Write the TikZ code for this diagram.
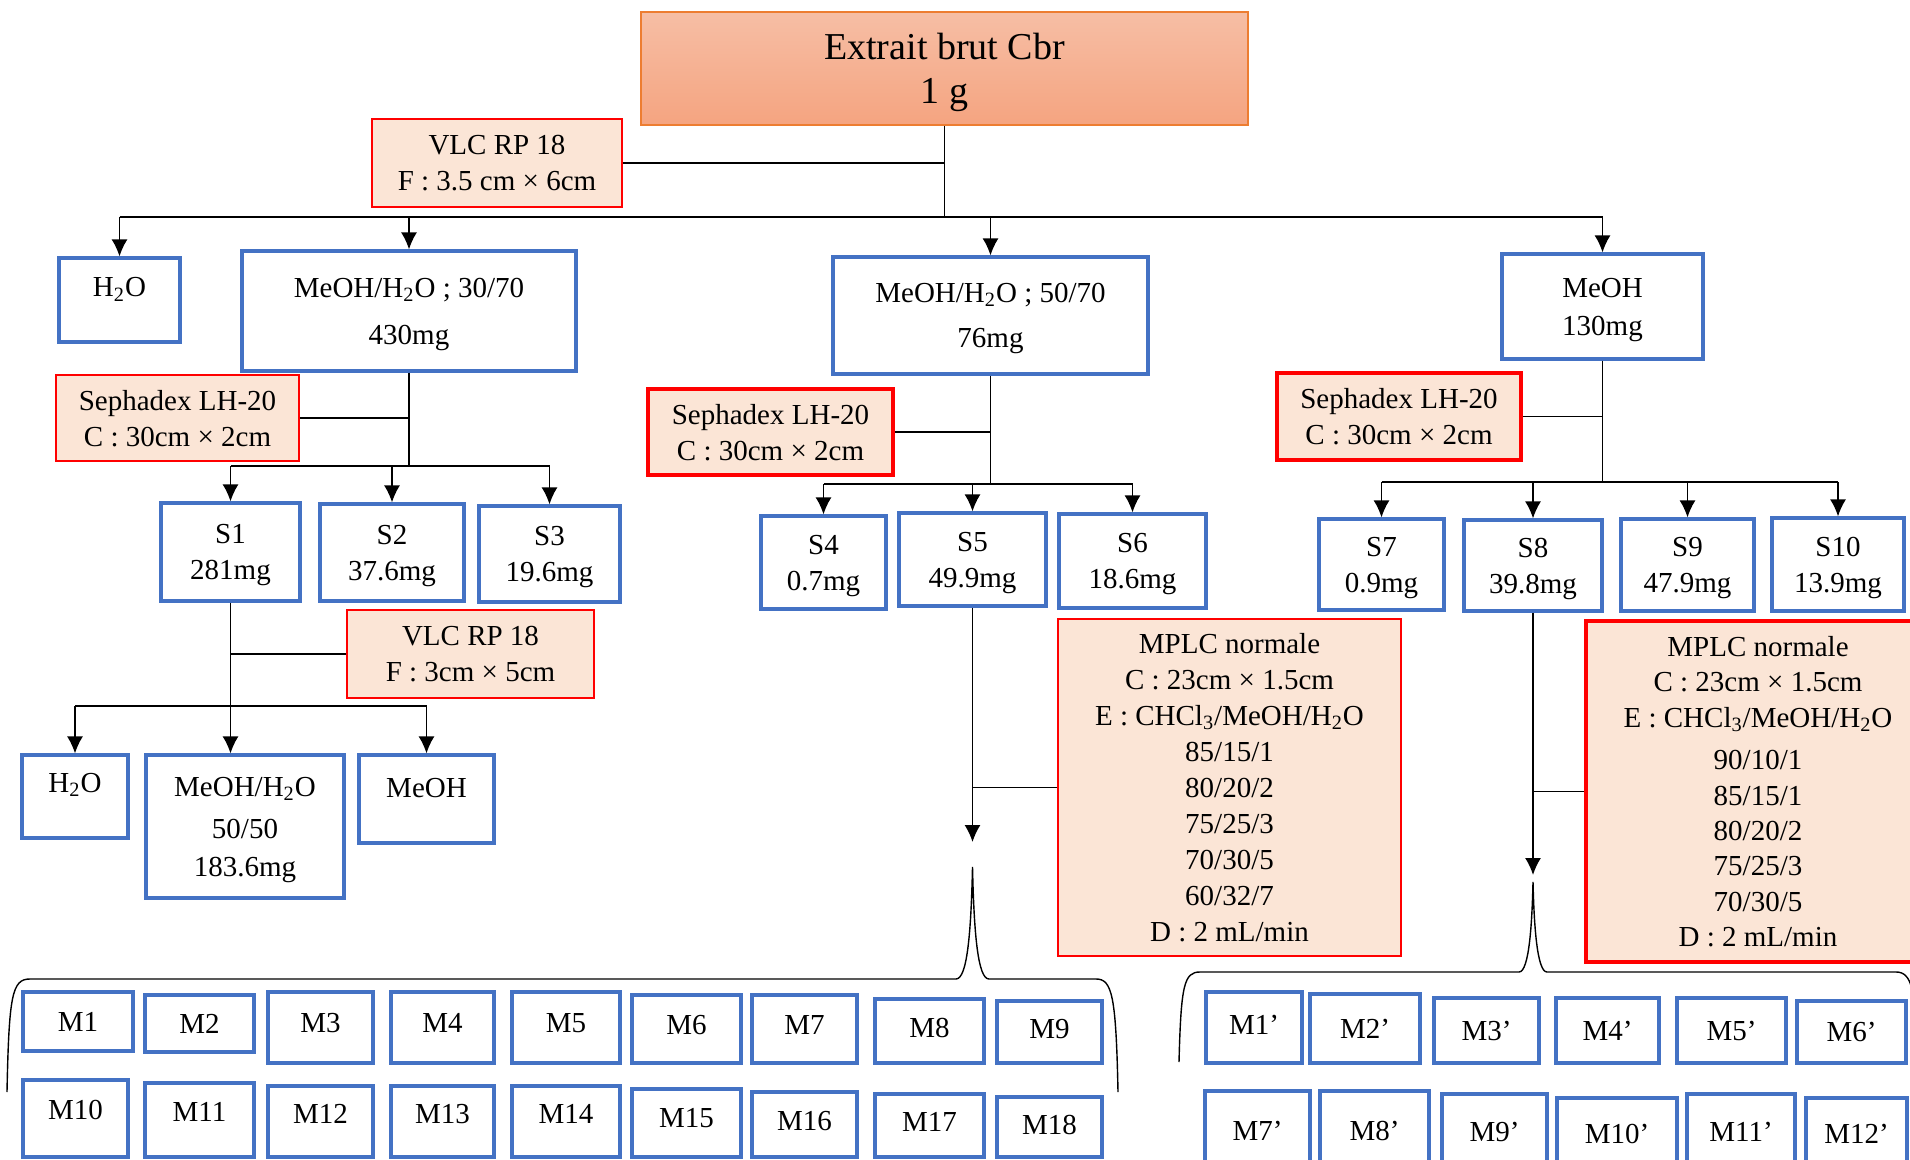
\documentclass[tikz,border=0pt]{standalone}
\usepackage{fontspec}
\setmainfont{Liberation Serif}
\usepackage{tikz}
\usetikzlibrary{positioning,arrows.meta}
\definecolor{peach}{RGB}{251,229,214}
\definecolor{blueline}{RGB}{68,114,196}
\definecolor{orangeline}{RGB}{237,125,49}
\definecolor{crudetop}{RGB}{246,190,165}
\definecolor{crudebot}{RGB}{245,164,128}

\begin{document}
\begin{tikzpicture}[x=0.5pt,y=-0.5pt,font=\fontsize{14.5pt}{18pt}\selectfont]
\tikzstyle{crude}=[rectangle, inner sep=0pt, align=center, draw=orangeline, line width=1pt, top color=crudetop, bottom color=crudebot, font=\fontsize{19pt}{22pt}\selectfont, text depth=-1.8pt]
\tikzstyle{wordline}=[text depth=0pt]
\tikzstyle{column}=[rectangle, inner sep=0pt, align=center, draw=red, line width=0.9pt, fill=peach, text depth=-2.5pt]
\tikzstyle{columnb}=[column, line width=2pt]
\tikzstyle{fraction}=[rectangle, inner sep=0pt, align=center, draw=blueline, line width=1.6pt, fill=white]
\tikzstyle{connect}=[-{Latex[length=8.5pt,width=8pt]}, line width=0.8pt]
\tikzstyle{link}=[line width=0.8pt]
\useasboundingbox (0,0) rectangle (1910,1160);

% crude extract and first VLC
\node[crude, minimum width=303.5pt, minimum height=56.5pt] (cbr) at (944.5,68.5) {Extrait brut Cbr\\1 g};
\node[column, minimum width=125pt, minimum height=44pt, text depth=-1.8pt] (vlcA) at (497,163) {VLC RP 18\\F : 3.5 cm × 6cm};
\coordinate (busA) at (944.5,217);

\node[fraction, minimum width=60.5pt, minimum height=42pt, text depth=12.6pt] (h2oA) at (119.5,300) {H\textsubscript{2}O};
\node[fraction, wordline, minimum width=167pt, minimum height=60pt] (meA) at (409,311) {MeOH/H\textsubscript{2}O ; 30/70\\[5.5pt]430mg};
\node[fraction, wordline, minimum width=157.5pt, minimum height=58.5pt] (meB) at (990.5,315.5) {MeOH/H\textsubscript{2}O ; 50/70\\[4.5pt]76mg};
\node[fraction, wordline, minimum width=100.5pt, minimum height=52.5pt, text depth=-1pt] (meC) at (1602.5,306.5) {MeOH\\[1pt]130mg};

% Sephadex columns
\node[column, minimum width=121.5pt, minimum height=43pt] (sephA) at (177.5,418) {Sephadex LH-20\\C : 30cm × 2cm};
\node[columnb, minimum width=122.5pt, minimum height=43pt] (sephB) at (770.5,432) {Sephadex LH-20\\C : 30cm × 2cm};
\node[columnb, minimum width=122pt, minimum height=43.5pt] (sephC) at (1399,416.5) {Sephadex LH-20\\C : 30cm × 2cm};
\coordinate (busB) at (409,466);
\coordinate (busD) at (990.5,484);
\coordinate (busE) at (1602.5,482);

% S fractions
\node[fraction, wordline, minimum width=69.5pt, minimum height=49pt] (s1) at (230.5,552) {S1\\281mg};
\node[fraction, wordline, minimum width=72pt, minimum height=48.5pt] (s2) at (392,552.5) {S2\\37.6mg};
\node[fraction, wordline, minimum width=70.5pt, minimum height=48pt] (s3) at (549.5,554) {S3\\19.6mg};
\node[fraction, wordline, minimum width=62.5pt, minimum height=46.5pt] (s4) at (823.5,562.5) {S4\\0.7mg};
\node[fraction, wordline, minimum width=73.5pt, minimum height=46.5pt] (s5) at (972.5,559.5) {S5\\49.9mg};
\node[fraction, wordline, minimum width=73.5pt, minimum height=47pt] (s6) at (1132.5,561) {S6\\18.6mg};
\node[fraction, wordline, minimum width=62.5pt, minimum height=45.5pt, text depth=-1pt] (s7) at (1381.5,564.5) {S7\\0.9mg};
\node[fraction, wordline, minimum width=69pt, minimum height=45.5pt, text depth=-1pt] (s8) at (1533,565.5) {S8\\39.8mg};
\node[fraction, wordline, minimum width=66.5pt, minimum height=46pt, text depth=-1pt] (s9) at (1687.5,565) {S9\\47.9mg};
\node[fraction, wordline, minimum width=66pt, minimum height=46.5pt, text depth=-1pt] (s10) at (1838,564.5) {S10\\13.9mg};

% S1 on VLC
\node[column, minimum width=123.5pt, minimum height=44pt, text depth=-1.8pt] (vlcB) at (470.5,654) {VLC RP 18\\F : 3cm × 5cm};
\coordinate (busC) at (230.5,706);
\node[fraction, minimum width=53pt, minimum height=41.5pt, text depth=14.1pt] (h2oB) at (75,796.5) {H\textsubscript{2}O};
\node[fraction, wordline, minimum width=99pt, minimum height=71.5pt] (me5050) at (245,826.5) {MeOH/H\textsubscript{2}O\\[3pt]50/50\\[1pt]183.6mg};
\node[fraction, minimum width=67.5pt, minimum height=44pt, text depth=11pt] (meoh) at (426.5,799) {MeOH};

% MPLC
\node[column, minimum width=171.5pt, minimum height=168.5pt, text depth=-1.2pt] (mplcA) at (1229.5,787.5) {MPLC normale\\C : 23cm × 1.5cm\\E : CHCl\textsubscript{3}/MeOH/H\textsubscript{2}O\\85/15/1\\80/20/2\\75/25/3\\70/30/5\\60/32/7\\D : 2 mL/min};
\node[columnb, minimum width=172pt, minimum height=170.5pt, text depth=-3pt] (mplcB) at (1758,791.5) {MPLC normale\\[-0.3pt]C : 23cm × 1.5cm\\[-0.3pt]E : CHCl\textsubscript{3}/MeOH/H\textsubscript{2}O\\[3.3pt]90/10/1\\[-0.3pt]85/15/1\\[-0.3pt]80/20/2\\[-0.3pt]75/25/3\\[-0.3pt]70/30/5\\[-0.3pt]D : 2 mL/min};
\coordinate (tipA) at (972.5,842);
\coordinate (tipB) at (1533,875);
\coordinate (peakA) at (972.5,867);
\coordinate (peakB) at (1533,882);

% M fractions from S5
\node[fraction, minimum width=55pt, minimum height=29.5pt] (m1) at (78,1021.5) {M1};
\node[fraction, minimum width=54.5pt, minimum height=28.5pt] (m2) at (199.5,1023.5) {M2};
\node[fraction, minimum width=52.5pt, minimum height=35.5pt, text depth=5pt] (m3) at (320.5,1027.5) {M3};
\node[fraction, minimum width=51.5pt, minimum height=35.5pt, text depth=5pt] (m4) at (442.5,1027.5) {M4};
\node[fraction, minimum width=54pt, minimum height=35.5pt, text depth=5pt] (m5) at (566,1027.5) {M5};
\node[fraction, minimum width=54.5pt, minimum height=34pt, text depth=4pt] (m6) at (686.5,1029) {M6};
\node[fraction, minimum width=52.5pt, minimum height=34pt, text depth=4pt] (m7) at (804.5,1029) {M7};
\node[fraction, minimum width=54.5pt, minimum height=32pt, text depth=3pt] (m8) at (929.5,1031) {M8};
\node[fraction, minimum width=52.5pt, minimum height=31pt, text depth=3pt] (m9) at (1049.5,1032) {M9};
\node[fraction, minimum width=52.5pt, minimum height=38.5pt, text depth=9pt] (m10) at (75.5,1118.5) {M10};
\node[fraction, minimum width=54.5pt, minimum height=37pt, text depth=8pt] (m11) at (199.5,1120) {M11};
\node[fraction, minimum width=52.5pt, minimum height=35.5pt, text depth=8pt] (m12) at (320.5,1121.5) {M12};
\node[fraction, minimum width=51.5pt, minimum height=35.5pt, text depth=8pt] (m13) at (442.5,1121.5) {M13};
\node[fraction, minimum width=54pt, minimum height=35.5pt, text depth=8pt] (m14) at (566,1121.5) {M14};
\node[fraction, minimum width=54.5pt, minimum height=34pt, text depth=5pt] (m15) at (686.5,1123) {M15};
\node[fraction, minimum width=52.5pt, minimum height=32.5pt, text depth=4pt] (m16) at (804.5,1124.5) {M16};
\node[fraction, minimum width=54.5pt, minimum height=31.5pt, text depth=3.5pt] (m17) at (929.5,1125.5) {M17};
\node[fraction, minimum width=52.5pt, minimum height=30pt, text depth=2pt] (m18) at (1049.5,1127) {M18};

% M' fractions from S8
\node[fraction, minimum width=48pt, minimum height=35.5pt, text depth=3pt] (n1) at (1254,1027.5) {M1’};
\node[fraction, minimum width=55pt, minimum height=34.5pt] (n2) at (1365,1028.5) {M2’};
\node[fraction, minimum width=52.5pt, minimum height=32.5pt] (n3) at (1486.5,1030.5) {M3’};
\node[fraction, minimum width=51.5pt, minimum height=32.5pt] (n4) at (1607.5,1030.5) {M4’};
\node[fraction, minimum width=54.5pt, minimum height=32.5pt] (n5) at (1731.5,1030.5) {M5’};
\node[fraction, minimum width=54.5pt, minimum height=31pt] (n6) at (1851.5,1032) {M6’};
\node[fraction, minimum width=52.5pt, minimum height=39.5pt] (n7) at (1257.5,1130.5) {M7’};
\node[fraction, minimum width=54.5pt, minimum height=39.5pt] (n8) at (1374.5,1130.5) {M8’};
\node[fraction, minimum width=52.5pt, minimum height=38pt] (n9) at (1494.5,1132) {M9’};
\node[fraction, minimum width=60pt, minimum height=36pt] (n10) at (1617,1134) {M10’};
\node[fraction, minimum width=54pt, minimum height=38pt] (n11) at (1741,1132) {M11’};
\node[fraction, minimum width=50.5pt, minimum height=36pt] (n12) at (1856.5,1134) {M12’};

% connectors
\draw[link] (cbr) -- (busA);
\draw[link] (vlcA) -- (vlcA -| busA);
\draw[link] (h2oA |- busA) -- (meC |- busA);
\foreach \n in {h2oA,meA,meB,meC}
	\draw[connect] (\n |- busA) -- (\n);

\draw[link] (meA) -- (busB);
\draw[link] (sephA) -- (sephA -| busB);
\draw[link] (s1 |- busB) -- (s3 |- busB);
\foreach \n in {s1,s2,s3}
	\draw[connect] (\n |- busB) -- (\n);

\draw[link] (meB) -- (busD);
\draw[link] (sephB) -- (sephB -| busD);
\draw[link] (s4 |- busD) -- (s6 |- busD);
\foreach \n in {s4,s5,s6}
	\draw[connect] (\n |- busD) -- (\n);

\draw[link] (meC) -- (busE);
\draw[link] (sephC) -- (sephC -| busE);
\draw[link] (s7 |- busE) -- (s10 |- busE);
\foreach \n in {s7,s8,s9,s10}
	\draw[connect] (\n |- busE) -- (\n);

\draw[link] (s1) -- (busC);
\draw[link] (vlcB) -- (vlcB -| busC);
\draw[link] (h2oB |- busC) -- (meoh |- busC);
\draw[connect] (h2oB |- busC) -- (h2oB);
\draw[connect] (busC) -- (busC |- me5050.north);
\draw[connect] (meoh |- busC) -- (meoh);

\draw[connect] (s5) -- (tipA);
\draw[link] (mplcA) -- (mplcA -| tipA);
\draw[connect] (s8) -- (tipB);
\draw[link] (mplcB) -- (mplcB -| tipB);

% braces
\draw[line width=0.7pt] (7,1092) .. controls (9,995) and (12,979) .. (30,979) -- (956,979)
	.. controls (967,979) and (971,935) .. (peakA) .. controls (974,935) and (978,979) .. (989,979)
	-- (1096,979) .. controls (1112,979) and (1116,995) .. (1118,1092);
\draw[line width=0.7pt] (1179,1062) .. controls (1181,985) and (1184,972) .. (1200,972) -- (1519,972)
	.. controls (1529,972) and (1532,925) .. (peakB) .. controls (1534,925) and (1537,972) .. (1547,972)
	-- (1896,972) .. controls (1912,972) and (1916,990) .. (1918,1062);
\end{tikzpicture}
\end{document}
